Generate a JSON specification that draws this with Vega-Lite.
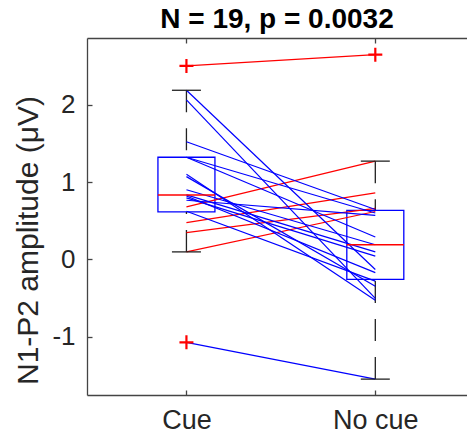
{
  "$schema": "https://vega.github.io/schema/vega-lite/v6.json",
  "width": 380,
  "height": 357,
  "autosize": {"type": "none"},
  "padding": {"left": 87, "top": 38, "right": 0, "bottom": 45},
  "background": "white",
  "config": {
    "font": "Liberation Sans",
    "view": {"stroke": null},
    "axis": {"grid": false, "domainColor": "#444", "domainWidth": 1.3, "tickColor": "#444", "tickWidth": 1.3, "labelColor": "#262626", "titleColor": "#262626", "labelFont": "Liberation Sans", "titleFont": "Liberation Sans"}
  },
  "title": {"text": "N = 19, p = 0.0032", "fontSize": 28, "fontWeight": "bold", "color": "#000", "anchor": "middle", "frame": "group", "baseline": "alphabetic", "offset": -19, "font": "Liberation Sans"},
  "datasets": {
    "pairs": [
      {"id": 1, "cond": 1, "v": 2.50, "dir": "up"}, {"id": 1, "cond": 2, "v": 2.645, "dir": "up"},
      {"id": 2, "cond": 1, "v": 0.68, "dir": "up"}, {"id": 2, "cond": 2, "v": 1.27, "dir": "up"},
      {"id": 3, "cond": 1, "v": 0.477, "dir": "up"}, {"id": 3, "cond": 2, "v": 0.86, "dir": "up"},
      {"id": 4, "cond": 1, "v": 0.348, "dir": "up"}, {"id": 4, "cond": 2, "v": 0.66, "dir": "up"},
      {"id": 5, "cond": 1, "v": 0.098, "dir": "up"}, {"id": 5, "cond": 2, "v": 0.62, "dir": "up"},
      {"id": 6, "cond": 1, "v": 2.185, "dir": "down"}, {"id": 6, "cond": 2, "v": -0.13, "dir": "down"},
      {"id": 7, "cond": 1, "v": 2.06, "dir": "down"}, {"id": 7, "cond": 2, "v": -0.503, "dir": "down"},
      {"id": 8, "cond": 1, "v": 1.52, "dir": "down"}, {"id": 8, "cond": 2, "v": 0.645, "dir": "down"},
      {"id": 9, "cond": 1, "v": 1.32, "dir": "down"}, {"id": 9, "cond": 2, "v": 0.60, "dir": "down"},
      {"id": 10, "cond": 1, "v": 1.32, "dir": "down"}, {"id": 10, "cond": 2, "v": 0.29, "dir": "down"},
      {"id": 11, "cond": 1, "v": 1.10, "dir": "down"}, {"id": 11, "cond": 2, "v": -0.525, "dir": "down"},
      {"id": 12, "cond": 1, "v": 1.07, "dir": "down"}, {"id": 12, "cond": 2, "v": -0.345, "dir": "down"},
      {"id": 13, "cond": 1, "v": 0.90, "dir": "down"}, {"id": 13, "cond": 2, "v": 0.19, "dir": "down"},
      {"id": 14, "cond": 1, "v": 0.834, "dir": "down"}, {"id": 14, "cond": 2, "v": 0.098, "dir": "down"},
      {"id": 15, "cond": 1, "v": 0.82, "dir": "down"}, {"id": 15, "cond": 2, "v": -0.17, "dir": "down"},
      {"id": 16, "cond": 1, "v": 0.795, "dir": "down"}, {"id": 16, "cond": 2, "v": 0.043, "dir": "down"},
      {"id": 17, "cond": 1, "v": 0.765, "dir": "down"}, {"id": 17, "cond": 2, "v": 0.57, "dir": "down"},
      {"id": 18, "cond": 1, "v": 0.623, "dir": "down"}, {"id": 18, "cond": 2, "v": -0.28, "dir": "down"},
      {"id": 19, "cond": 1, "v": -1.07, "dir": "down"}, {"id": 19, "cond": 2, "v": -1.545, "dir": "down"}
    ],
    "boxes": [
      {"cond": 1, "q1": 0.614, "med": 0.834, "q3": 1.32, "wlo": 0.098, "whi": 2.185},
      {"cond": 2, "q1": -0.258, "med": 0.19, "q3": 0.635, "wlo": -1.545, "whi": 1.27}
    ],
    "whiskers": [
      {"cond": 1, "a": 2.185, "b": 1.32}, {"cond": 1, "a": 0.098, "b": 0.614},
      {"cond": 2, "a": 1.27, "b": 0.635}, {"cond": 2, "a": -1.545, "b": -0.258}
    ],
    "caps": [
      {"cond": 1, "v": 2.185}, {"cond": 1, "v": 0.098},
      {"cond": 2, "v": 1.27}, {"cond": 2, "v": -1.545}
    ],
    "outliers": [
      {"cond": 1, "v": 2.50}, {"cond": 1, "v": -1.07}, {"cond": 2, "v": 2.645}
    ]
  },
  "resolve": {"axis": {"x": "independent"}},
  "layer": [
    {
      "data": {"name": "boxes"},
      "mark": {"type": "bar", "fill": null, "fillOpacity": 0, "stroke": "#0000FF", "strokeWidth": 1.3, "width": 57},
      "encoding": {
        "x": {"field": "cond", "type": "quantitative", "scale": {"domain": [0.5, 2.459], "nice": false, "zero": false},
          "axis": {"orient": "bottom", "values": [1, 2], "labelExpr": "datum.value == 1 ? 'Cue' : 'No cue'", "labelFontSize": 27, "tickSize": -5, "labelPadding": 17, "labelBaseline": "top", "title": null, "labelFlush": false}},
        "y": {"field": "q1", "type": "quantitative", "scale": {"domain": [-1.75, 2.86], "nice": false, "zero": false},
          "axis": {"orient": "left", "values": [-1, 0, 1, 2], "labelExpr": "replace(format(datum.value, 'd'), '−', '-')", "labelFontSize": 26, "tickSize": -5, "labelPadding": 17,
            "title": "N1-P2 amplitude (μV)", "titleFontSize": 30, "titleFontWeight": "normal", "titlePadding": 8, "titleY": 202}},
        "y2": {"field": "q3"}
      }
    },
    {
      "data": {"name": "whiskers"},
      "mark": {"type": "rule", "color": "#222", "strokeWidth": 1.3, "strokeDash": [22, 16]},
      "encoding": {
        "x": {"field": "cond", "type": "quantitative",
          "axis": {"orient": "top", "values": [1, 2], "labels": false, "tickSize": -5, "title": null}},
        "y": {"field": "a", "type": "quantitative"},
        "y2": {"field": "b"}
      }
    },
    {
      "data": {"name": "pairs"},
      "mark": {"type": "line", "strokeWidth": 1.2},
      "encoding": {
        "x": {"field": "cond", "type": "quantitative", "axis": null},
        "y": {"field": "v", "type": "quantitative"},
        "detail": {"field": "id"},
        "color": {"field": "dir", "type": "nominal", "scale": {"domain": ["up", "down"], "range": ["#FF0000", "#0000FF"]}, "legend": null}
      }
    },
    {
      "data": {"name": "boxes"},
      "mark": {"type": "tick", "orient": "horizontal", "color": "#FF0000", "size": 57, "thickness": 1.5, "opacity": 1},
      "encoding": {
        "x": {"field": "cond", "type": "quantitative", "axis": null},
        "y": {"field": "med", "type": "quantitative"}
      }
    },
    {
      "data": {"name": "caps"},
      "mark": {"type": "tick", "orient": "horizontal", "color": "#222", "size": 29, "thickness": 1.3, "opacity": 1},
      "encoding": {
        "x": {"field": "cond", "type": "quantitative", "axis": null},
        "y": {"field": "v", "type": "quantitative"}
      }
    },
    {
      "data": {"name": "outliers"},
      "mark": {"type": "point", "shape": "M-1,0L1,0M0,-1L0,1", "stroke": "#FF0000", "strokeWidth": 2.2, "size": 196, "filled": false, "opacity": 1},
      "encoding": {
        "x": {"field": "cond", "type": "quantitative", "axis": null},
        "y": {"field": "v", "type": "quantitative"}
      }
    }
  ]
}
